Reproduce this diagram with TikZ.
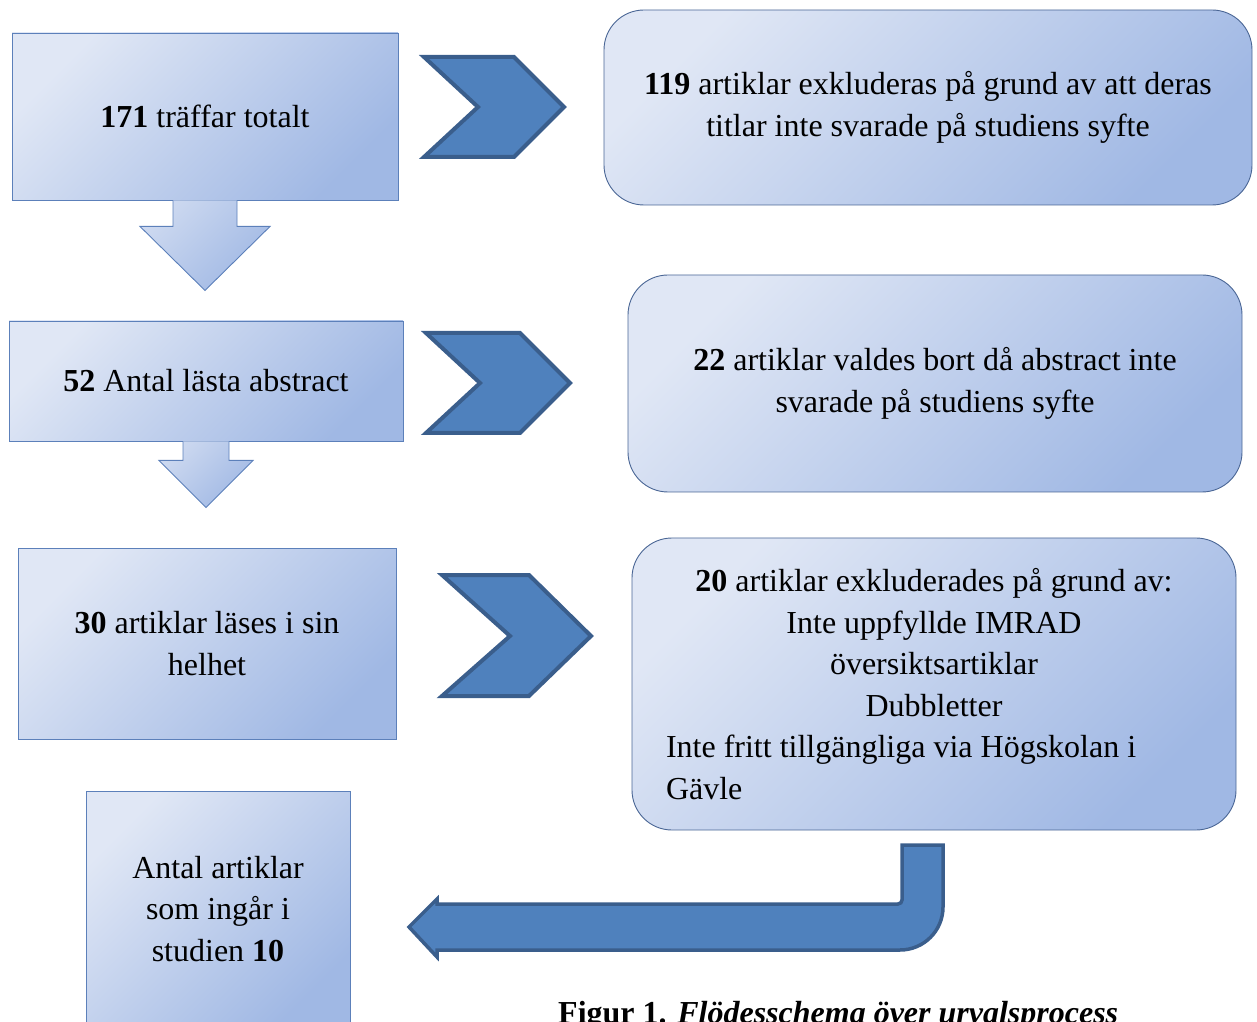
\documentclass[tikz,border=0pt]{standalone}
\usepackage{fontspec}
\setmainfont{Liberation Serif}
\usetikzlibrary{positioning, calc}
\definecolor{ljus}{RGB}{224,231,245}
\definecolor{mork}{RGB}{160,184,228}
\definecolor{ram}{RGB}{92,128,186}
\definecolor{pilfarg}{RGB}{79,129,189}
\definecolor{pilram}{RGB}{58,94,140}
\tikzset{
	x=1pt, y=1pt, % en punkt per bildpunkt
	box/.style={draw=ram, line width=0.9pt, top color=ljus, bottom color=mork, shading angle=45,
		align=center, inner sep=0pt, font=\fontsize{32}{41.5}\selectfont}, % fyrkantiga rutor
	rundbox/.style={box, draw=ram!80!black, rounded corners=40pt}, % rundade rutor
	nedpil/.style={draw=ram, line width=0.9pt, top color=ljus!70!mork, bottom color=mork, shading angle=45}, % pil nedat
	chevron/.style={draw=pilram, line width=4pt, fill=pilfarg} % blaa pilar
}

\begin{document}
\begin{tikzpicture}
	\useasboundingbox (0,0) rectangle (1257,1021);
	% vanstra kolumnen
	\node[box, minimum width=386pt, minimum height=167pt] (b1) at (205,904.5) {\textbf{171} träffar totalt};
	\node[box, minimum width=394pt, minimum height=120pt] (b2) at (206,640) {\textbf{52} Antal lästa abstract};
	\node[box, minimum width=378pt, minimum height=191pt] (b3) at (207,377.5) {\textbf{30} artiklar läses i sin\\helhet};
	\node[box, minimum width=264pt, minimum height=236pt] (b4) at (218,112) {Antal artiklar\\som ingår i\\studien \textbf{10}};
	% hogra kolumnen
	\node[rundbox, minimum width=648pt, minimum height=195pt] (r1) at (928,913.5)
		{\textbf{119} artiklar exkluderas på grund av att deras\\titlar inte svarade på studiens syfte};
	\node[rundbox, minimum width=614pt, minimum height=217pt] (r2) at (935,637.5)
		{\textbf{22} artiklar valdes bort då abstract inte\\svarade på studiens syfte};
	\node[rundbox, minimum width=604pt, minimum height=292pt, text width=536pt, align=flush center] (r3) at (934,337)
		{\spaceskip=0pt \textbf{20} artiklar exkluderades på grund av:\\Inte uppfyllde IMRAD\\översiktsartiklar\\Dubbletter\\
		\makebox[\linewidth][l]{Inte fritt tillgängliga via Högskolan i}\\\makebox[\linewidth][l]{Gävle}};
	% pilar nedat
	\draw[nedpil] (b1.south) ++(-32,0) -- ++(0,-26) -- ++(-33,0) -- ++(65,-64) -- ++(65,64) -- ++(-33,0) -- ++(0,26);
	\draw[nedpil] (b2.south) ++(-23,0) -- ++(0,-19) -- ++(-24,0) -- ++(47,-47) -- ++(47,47) -- ++(-24,0) -- ++(0,19);
	% pilar at hoger
	\draw[chevron] (424,964) -- (514,964) -- (564,914) -- (514,864) -- (424,864) -- (478,914) -- cycle;
	\draw[chevron] (426,688) -- (520,688) -- (570,638) -- (520,588) -- (426,588) -- (480,638) -- cycle;
	\draw[chevron] (442,446) -- (529,446) -- (591,385) -- (529,325) -- (442,325) -- (510,385) -- cycle;
	% svangd pil tillbaka
	\draw[chevron, line width=3.5pt] (437,117) -- (437,122) -- (409,94) -- (437,64) -- (437,71) -- (900,71)
		arc[start angle=-90, end angle=0, radius=43] -- (943,176) -- (902,176) -- (902,121)
		arc[start angle=0, end angle=-90, radius=4] -- cycle;
	% figurtext
	\node[anchor=base west, inner sep=0pt, font=\bfseries\fontsize{32}{38}\selectfont] (fig) at (558,-2)
		{Figur 1. \textit{Flödesschema över urvalsprocess}};
\end{tikzpicture}
\end{document}
